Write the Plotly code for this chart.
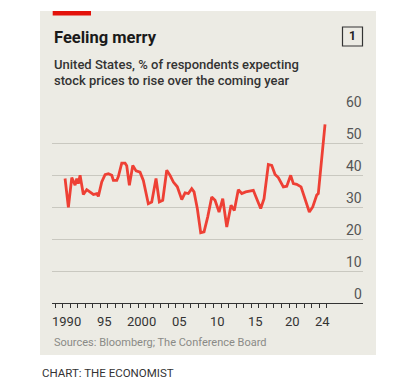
import plotly.graph_objects as go

# ---- data ----
dates = [1990.33, 1990.77, 1991.22, 1991.66, 1991.88, 1992.09, 1992.32, 1992.75, 1993.2, 1993.64,
         1994.08, 1994.53, 1994.74, 1995.19, 1995.63, 1996.07, 1996.52, 1996.73, 1997.18, 1997.39,
         1997.84, 1998.28, 1998.5, 1998.85, 1999.3, 1999.74, 2000.26, 2000.7, 2001.36, 2001.81,
         2002.38, 2002.82, 2003.27, 2003.8, 2004.24, 2004.68, 2005.2, 2005.79, 2006.23, 2006.66,
         2007.11, 2007.42, 2007.85, 2008.3, 2008.74, 2009.23, 2009.76, 2010.2, 2010.73, 2011.22,
         2011.75, 2012.32, 2012.75, 2013.28, 2013.74, 2014.26, 2014.83, 2015.27, 2015.8, 2016.25,
         2016.69, 2017.26, 2017.71, 2018.15, 2018.58, 2019.25, 2019.7, 2020.22, 2020.57, 2021.02,
         2021.59, 2022.12, 2022.69, 2023.14, 2023.67, 2023.88, 2024.77]
values = [39, 30, 39.3, 36.9, 39, 37.4, 40, 34, 35.5, 34.8,
          34, 34.3, 33.4, 37.9, 40.2, 40.5, 40, 38.4, 38.4, 39.6,
          43.8, 43.8, 43, 36.9, 43.1, 41.4, 41, 38.4, 31.1, 31.6,
          39, 31.7, 32.2, 41.6, 40, 37.9, 36.4, 32.4, 34.5, 34.3,
          35.8, 34.8, 29.6, 22, 22.3, 27, 33.2, 32.2, 28.5, 32.7,
          23.8, 30.6, 29, 35.5, 34.3, 34.8, 35.1, 35.3, 32.2, 29.6,
          32.7, 43.4, 43.1, 40.3, 39.3, 36.4, 36.6, 40, 37.4, 37.2,
          36.4, 32.2, 28.5, 30.1, 33.8, 34.3, 56]

y_ticks = [0, 10, 20, 30, 40, 50, 60]
year_ticks = list(range(1989, 2026))
x_label_years = [1990, 1995, 2000, 2005, 2010, 2015, 2020, 2024]
x_label_text = ["1990", "95", "2000", "05", "10", "15", "20", "24"]

# page body has an 8px margin; build the figure in window coordinates shifted by it
OFF = 8
W, H = 402 - OFF, 389 - OFF
FONT = "Roboto"
RED = "#EE4035"
PANEL = "#ECEBE4"

def px_x(p):
    return (p - OFF) / W

def px_y(p):
    return 1 - (p - OFF) / H

fig = go.Figure()
fig.add_trace(go.Scatter(x=dates, y=values, mode="lines",
                         line=dict(color=RED, width=2.8), hoverinfo="skip",
                         showlegend=False))

shapes = [
    dict(type="rect", xref="paper", yref="paper", x0=px_x(40), x1=px_x(376),
         y0=px_y(355), y1=px_y(11), fillcolor=PANEL, line=dict(width=0), layer="below"),
    dict(type="rect", xref="paper", yref="paper", x0=px_x(52.7), x1=px_x(91),
         y0=px_y(15.5), y1=px_y(11), fillcolor="#E3120B", line=dict(width=0), layer="above"),
    dict(type="rect", xref="paper", yref="paper", x0=px_x(342.5), x1=px_x(362.5),
         y0=px_y(46), y1=px_y(27), fillcolor="rgba(0,0,0,0)",
         line=dict(color="#333333", width=1.2), layer="above"),
]

annotations = [
    dict(text="<b>Feeling merry</b>", x=px_x(52), y=px_y(37), xref="paper", yref="paper",
         xanchor="left", yanchor="middle", showarrow=False,
         font=dict(family=FONT, size=16.5, color="#1a1a1a")),
    dict(text="<b>1</b>", x=px_x(352.5), y=px_y(36.5), xref="paper", yref="paper",
         xanchor="center", yanchor="middle", showarrow=False,
         font=dict(family=FONT, size=12, color="#222222")),
    dict(text="United States, % of respondents expecting", x=px_x(52), y=px_y(64),
         xref="paper", yref="paper", xanchor="left", yanchor="middle", showarrow=False,
         font=dict(family=FONT, size=13, color="#333333", weight=500)),
    dict(text="stock prices to rise over the coming year", x=px_x(52), y=px_y(81),
         xref="paper", yref="paper", xanchor="left", yanchor="middle", showarrow=False,
         font=dict(family=FONT, size=13, color="#333333", weight=500)),
    dict(text="Sources: Bloomberg; The Conference Board", x=px_x(52), y=px_y(342),
         xref="paper", yref="paper", xanchor="left", yanchor="middle", showarrow=False,
         font=dict(family=FONT, size=11, color="#8a8a86")),
    dict(text="CHART: THE ECONOMIST", x=px_x(40), y=px_y(373),
         xref="paper", yref="paper", xanchor="left", yanchor="middle", showarrow=False,
         font=dict(family=FONT, size=11.5, color="#333333")),
]

for v in y_ticks:
    annotations.append(dict(text=str(v), x=px_x(363.5), y=v, xref="paper", yref="y",
                            xanchor="right", yanchor="middle", yshift=9, showarrow=False,
                            font=dict(family=FONT, size=14, color="#555555")))

for yr, t in zip(x_label_years, x_label_text):
    annotations.append(dict(text=t, x=yr + 0.5, y=px_y(321), xref="x", yref="paper",
                            xanchor="center", yanchor="middle", showarrow=False,
                            font=dict(family=FONT, size=13, color="#333333")))

fig.update_layout(
    width=W, height=H,
    margin=dict(l=0, r=0, t=0, b=0),
    paper_bgcolor="white", plot_bgcolor="rgba(0,0,0,0)",
    shapes=shapes, annotations=annotations,
    xaxis=dict(domain=[px_x(52), px_x(363)], range=[1988.6, 2029.8],
               tickvals=year_ticks, showticklabels=False, ticks="outside",
               ticklen=4, tickwidth=1, tickcolor="#333333",
               showgrid=False, zeroline=False, showline=True,
               linecolor="#333333", linewidth=1.3, fixedrange=True),
    yaxis=dict(domain=[px_y(303), px_y(111.5)], range=[0, 60], tickvals=y_ticks,
               showticklabels=False, showgrid=True, gridcolor="#C9C8C0", gridwidth=1,
               zeroline=False, showline=False, fixedrange=True),
    showlegend=False,
)

fig.write_html("out.html")
